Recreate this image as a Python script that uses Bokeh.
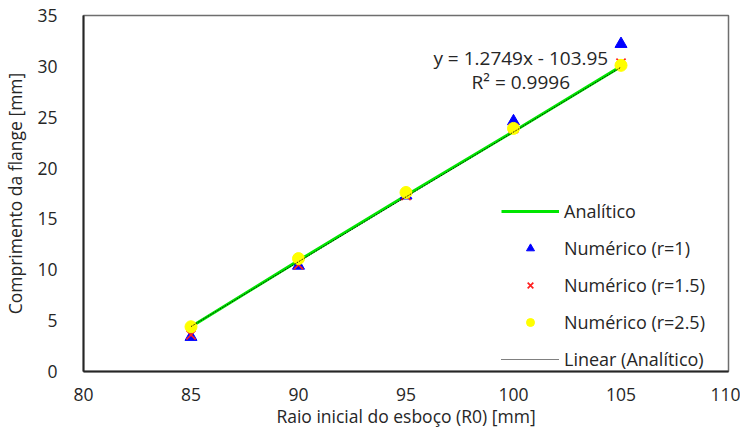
from bokeh.plotting import figure
from bokeh.models import Legend, LegendItem, Label, FixedTicker
from bokeh.embed import file_html
from bokeh.resources import INLINE

# Data
r0 = [85, 90, 95, 100, 105]
analitico = [4.4, 10.9, 17.3, 23.6, 30.0]
num_r1 = [3.4, 10.4, 17.3, 24.6, 32.2]
num_r15 = [3.6, 10.5, 17.3, 23.9, 30.3]
num_r25 = [4.4, 11.1, 17.6, 23.9, 30.1]
trend_slope = 1.2749
trend_intercept = -103.95
trend_r2 = 0.9996
x_ticks = [80, 85, 90, 95, 100, 105, 110]
y_ticks = [0, 5, 10, 15, 20, 25, 30, 35]

FONT = "Open Sans"
TXT = "#262626"

p = figure(width=740, height=430, output_backend="svg", toolbar_location=None,
           x_range=(80, 110), y_range=(0, 35),
           min_border_left=82, min_border_right=12, min_border_top=15, min_border_bottom=58)

p.xgrid.visible = False
p.ygrid.visible = False
p.outline_line_color = "#6e6e6e"
p.outline_line_width = 1.5
p.background_fill_color = "white"
p.border_fill_color = "white"

for ax in (p.xaxis[0], p.yaxis[0]):
    ax.axis_line_color = "#262626"
    ax.axis_line_width = 2
    ax.major_tick_line_color = None
    ax.minor_tick_line_color = None
    ax.major_label_text_font = FONT
    ax.major_label_text_font_size = "17.5px"
    ax.major_label_text_color = TXT
    ax.axis_label_text_font = FONT
    ax.axis_label_text_font_size = "17.5px"
    ax.axis_label_text_font_style = "normal"
    ax.axis_label_text_color = TXT

p.xaxis.ticker = FixedTicker(ticks=x_ticks)
p.yaxis.ticker = FixedTicker(ticks=y_ticks)
p.xaxis.major_label_standoff = 10
p.yaxis.major_label_standoff = 20
p.xaxis.axis_label = "Raio inicial do esboço (R0) [mm]"
p.yaxis.axis_label = "Comprimento da flange [mm]"
p.xaxis.axis_label_standoff = 0
p.yaxis.axis_label_standoff = 7

# Series
r_line = p.line(r0, analitico, line_color="#00e600", line_width=3)
r_tri = p.scatter(r0, num_r1, marker="triangle", size=12, fill_color="#0000ff", line_color="#0000ff")
r_x = p.scatter(r0, num_r15, marker="x", size=13, line_color="#ff2020", line_width=1.7)
r_circ = p.scatter(r0, num_r25, marker="circle", size=12, fill_color="#ffff00", line_color="#ffff00")

# Linear trendline from the shown equation
tx = [r0[0], r0[-1]]
ty = [trend_slope * v + trend_intercept for v in tx]
r_trend = p.line(tx, ty, line_color="#000000", line_width=1, line_dash="1 1")

legend = Legend(items=[
    LegendItem(label="Analítico", renderers=[r_line]),
    LegendItem(label="Numérico (r=1)", renderers=[r_tri]),
    LegendItem(label="Numérico (r=1.5)", renderers=[r_x]),
    LegendItem(label="Numérico (r=2.5)", renderers=[r_circ]),
    LegendItem(label="Linear (Analítico)", renderers=[r_trend]),
], location=(418, 0))
legend.border_line_color = None
legend.background_fill_alpha = 0
legend.padding = 0
legend.margin = 0
legend.glyph_width = 58
legend.glyph_height = 20
legend.label_height = 20
legend.spacing = 13
legend.label_standoff = 5
legend.label_text_font = FONT
legend.label_text_font_size = "18px"
legend.label_text_color = TXT
p.add_layout(legend)

eq1 = Label(x=100.34, y=30.86, text=f"y = {trend_slope}x - {abs(trend_intercept)}",
            text_align="center", text_baseline="middle", text_font=FONT,
            text_font_size="19px", text_color=TXT)
eq2 = Label(x=100.34, y=28.49, text=f"R² = {trend_r2}",
            text_align="center", text_baseline="middle", text_font=FONT,
            text_font_size="19px", text_color=TXT)
p.add_layout(eq1)
p.add_layout(eq2)

open("out.html", "w").write(file_html(p, INLINE))
